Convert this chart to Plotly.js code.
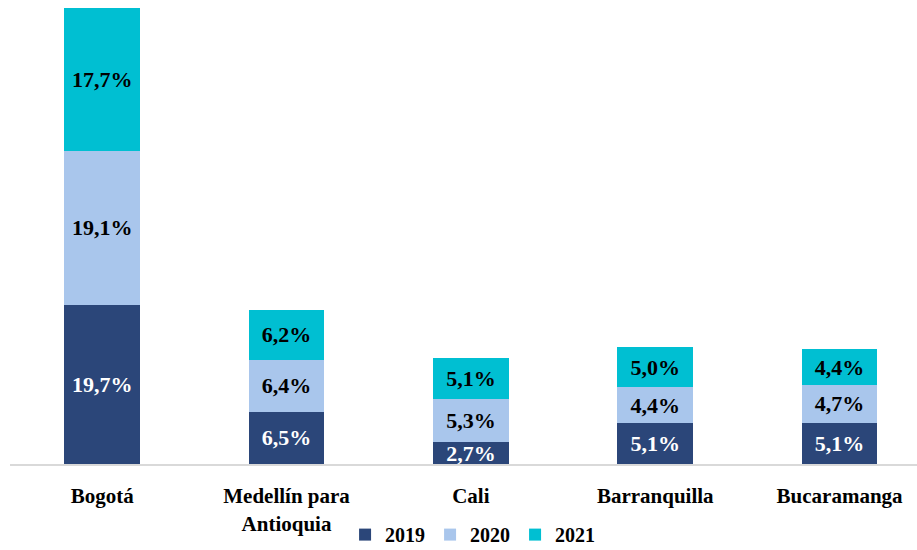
<!DOCTYPE html>
<html><head><meta charset="utf-8">
<script src="https://cdn.plot.ly/plotly-3.0.1.min.js"></script>
<style>html,body{margin:0;padding:0;background:#fff}#chart{width:917px;height:550px}</style>
</head><body><div id="chart"></div>
<script>
var categories = ["Bogotá", "Medellín para<br>Antioquia", "Cali", "Barranquilla", "Bucaramanga"];
var v2019 = [19.7, 6.5, 2.7, 5.1, 5.1];
var v2020 = [19.1, 6.4, 5.3, 4.4, 4.7];
var v2021 = [17.7, 6.2, 5.1, 5.0, 4.4];
var seriesNames = ["2019", "2020", "2021"];
var colors = ["#2b4679", "#a9c6ec", "#00bfd2"];
var textColors = ["#ffffff", "#000000", "#000000"];
var F = "'Liberation Serif', 'Times New Roman', serif";

var traces = [v2019, v2020, v2021].map(function(vals, i){
  return {
    type: "bar", x: categories, y: vals, name: "<b>" + seriesNames[i] + "</b>",
    marker: {color: colors[i], line: {width: 0}},
    texttemplate: "<b>%{y:.1f}%</b>", textposition: "inside",
    insidetextanchor: "middle", constraintext: "none",
    textfont: {family: F, size: 22, color: textColors[i]},
    hoverinfo: "skip", width: 0.41
  };
});

var layout = {
  barmode: "stack",
  separators: ",.",
  margin: {l: 10, r: 0, t: 0, b: 86, autoexpand: false},
  paper_bgcolor: "#fff", plot_bgcolor: "#fff",
  showlegend: true,
  legend: {orientation: "h", x: 0.51, xanchor: "center", yref: "container", y: 0.028, yanchor: "middle",
           font: {family: F, size: 20, color: "#000"}, itemwidth: 30, traceorder: "normal"},
  xaxis: {type: "category", range: [-0.5, 4.42], showline: true, linecolor: "#d9d9d9", linewidth: 2,
          ticks: "", showgrid: false, zeroline: false, automargin: false,
          tickfont: {family: F, size: 21, color: "#000"}, ticklabelstandoff: 12,
          tickvals: categories, ticktext: categories.map(function(c){return "<b>"+c+"</b>";})},
  yaxis: {range: [0, 57.5], visible: false, showgrid: false, zeroline: false, automargin: false},
  font: {family: F}
};
Plotly.newPlot("chart", traces, layout, {displayModeBar: false, staticPlot: true});
</script></body></html>
